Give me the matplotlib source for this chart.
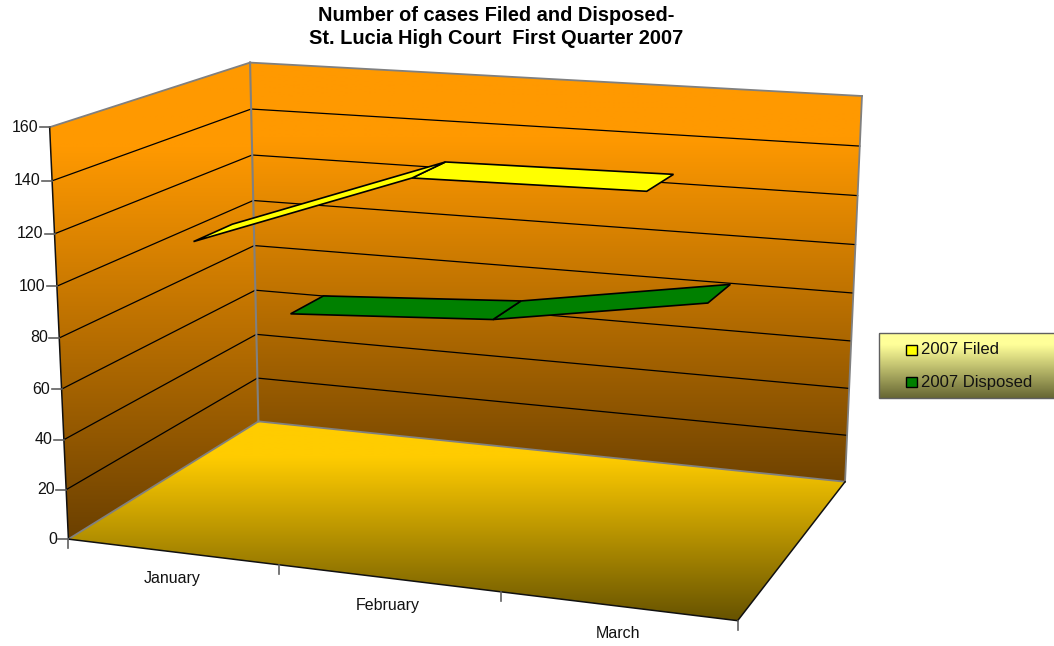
import numpy as np
import matplotlib
matplotlib.use('Agg')
import matplotlib.pyplot as plt
from matplotlib.patches import Polygon, Rectangle

plt.rcParams['font.family'] = ['Liberation Sans', 'DejaVu Sans']

# ---- data ----
months = ['January', 'February', 'March']
filed = [115, 145, 146]
disposed = [67, 72, 86]
series_names = ['2007 Filed', '2007 Disposed']
y_ticks = [0, 20, 40, 60, 80, 100, 120, 140, 160]
y_max = 160
title = 'Number of cases Filed and Disposed-\nSt. Lucia High Court  First Quarter 2007'

# ---- 3D box -> image projection, fitted to the box corners (x: months, y: value/max, z: depth) ----
box_anchor = [((0, 0, 0), (68.3, 539)), ((3, 0, 0), (737.7, 620.7)), ((0, 0, 1), (258.5, 421.5)),
              ((3, 0, 1), (845, 481.7)), ((0, 1, 0), (49.7, 127.3)), ((0, 1, 1), (250, 62.5)),
              ((3, 1, 1), (862, 96))]
A = []
for (x, y, z), (u, v) in box_anchor:
    u /= 1000
    v /= 1000
    A.append([x, y, z, 1, 0, 0, 0, 0, -u*x, -u*y, -u*z, -u])
    A.append([0, 0, 0, 0, x, y, z, 1, -v*x, -v*y, -v*z, -v])
P = np.linalg.svd(np.array(A))[2][-1].reshape(3, 4)
P = P / P[2, 3]
P[:2] *= 1000


def proj(x, val, z):
    h = P @ np.array([x, val / y_max, z, 1.0])
    return h[0] / h[2], h[1] / h[2]


W, H = 1054, 646
fig = plt.figure(figsize=(W / 100, H / 100), dpi=100)
ax = fig.add_axes([0, 0, 1, 1])
ax.set_xlim(0, W)
ax.set_ylim(H, 0)
ax.axis('off')


def grad_poly(pts, top, bottom, zorder=1, flat=0.18):
    pts = np.array(pts)
    y0, y1 = pts[:, 1].min(), pts[:, 1].max()
    x0, x1 = pts[:, 0].min(), pts[:, 0].max()
    t = np.clip((np.linspace(0, 1, 512) - flat) / (1 - flat), 0, 1)[:, None]
    c0, c1 = np.array(matplotlib.colors.to_rgb(top)), np.array(matplotlib.colors.to_rgb(bottom))
    img = (c0 * (1 - t) + c1 * t)[:, None, :]
    im = ax.imshow(img, extent=(x0, x1, y1, y0), aspect='auto', zorder=zorder, interpolation='bilinear')
    clip = Polygon(pts, closed=True, transform=ax.transData, facecolor='none', edgecolor='none')
    ax.add_patch(clip)
    im.set_clip_path(clip)


X_MAX = len(months)
WALL_TOP, WALL_BOT = '#FF9900', '#6B4000'
# walls and floor
grad_poly([proj(0, 0, 1), proj(X_MAX, 0, 1), proj(X_MAX, y_max, 1), proj(0, y_max, 1)], WALL_TOP, '#704300')
grad_poly([proj(0, 0, 0), proj(0, 0, 1), proj(0, y_max, 1), proj(0, y_max, 0)], WALL_TOP, WALL_BOT)
grad_poly([proj(0, 0, 0), proj(X_MAX, 0, 0), proj(X_MAX, 0, 1), proj(0, 0, 1)], '#FFCC00', '#665200')
ax.set_xlim(0, W)
ax.set_ylim(H, 0)

# gridlines
for t in y_ticks[1:-1]:
    a, b, c = proj(0, t, 0), proj(0, t, 1), proj(X_MAX, t, 1)
    ax.plot([a[0], b[0], c[0]], [a[1], b[1], c[1]], color='black', lw=0.9, zorder=2, solid_joinstyle='miter')


def seg(p, q, color, lw=1.3, z=3):
    ax.plot([p[0], q[0]], [p[1], q[1]], color=color, lw=lw, zorder=z, solid_capstyle='projecting')


# gray box edges
G = '#808080'
seg(proj(0, y_max, 0), proj(0, y_max, 1), G)
seg(proj(0, y_max, 1), proj(X_MAX, y_max, 1), G)
seg(proj(0, y_max, 1), proj(0, 0, 1), G, lw=1.5)
seg(proj(X_MAX, y_max, 1), proj(X_MAX, 0, 1), G)
seg(proj(0, 0, 0), proj(0, 0, 1), G)
seg(proj(0, 0, 1), proj(X_MAX, 0, 1), G)
# dark front edges
K = '#101010'
seg(proj(0, 0, 0), proj(0, y_max, 0), K, lw=1.1)
seg(proj(0, 0, 0), proj(X_MAX, 0, 0), K, lw=1.1)
seg(proj(X_MAX, 0, 0), proj(X_MAX, 0, 1), K, lw=1.1)

# value-axis ticks and labels
for t in y_ticks:
    u, v = proj(0, t, 0)
    ax.plot([u - 10, u], [v, v], color='#606060', lw=1.2, zorder=3)
    ax.text(u - 11.5, v, str(t), ha='right', va='center', fontsize=11.5, color='#111111')

# category ticks and labels
for i in range(X_MAX + 1):
    u, v = proj(i, 0, 0)
    ax.plot([u, u], [v, v + 9], color='#606060', lw=1.2, zorder=3)
for i, m in enumerate(months):
    u, v = proj(i + 0.5, 0, 0)
    ax.text(u, v + 27, m, ha='center', va='center', fontsize=11.5, color='#111111')

# ribbons
DEPTHS = [(0.15, 0.345), (0.65, 0.845)]
COLORS = ['#FFFF00', '#008000']
for vals, (zf, zb), col, zo in [(disposed, DEPTHS[1], COLORS[1], 4), (filed, DEPTHS[0], COLORS[0], 6)]:
    n = len(vals)
    for i in range(n - 2, -1, -1):
        x0, x1 = i + 0.5, i + 1.5
        quad = [proj(x0, vals[i], zf), proj(x0, vals[i], zb), proj(x1, vals[i + 1], zb), proj(x1, vals[i + 1], zf)]
        ax.add_patch(Polygon(quad, closed=True, facecolor=col, edgecolor='black', lw=1.2,
                             zorder=zo + (n - 2 - i) * 0.1, joinstyle='miter'))

# title
ax.text(496, 27, title, ha='center', va='center', fontsize=14.4, fontweight='bold',
        color='black', linespacing=1.25)

# legend box, running off the right edge
lx0, lx1, ly0, ly1 = 879, 1054, 333, 398
ax.add_patch(Rectangle((lx0 + 1, ly0 + 1), lx1 - lx0, ly1 - ly0, facecolor='#555555', edgecolor='none', zorder=1))
grad_poly([(lx0, ly0), (lx1, ly0), (lx1, ly1), (lx0, ly1)], '#FFFF99', '#666633', zorder=2)
ax.add_patch(Rectangle((lx0, ly0), lx1 - lx0 + 2, ly1 - ly0, facecolor='none', edgecolor='#606060', lw=1.0, zorder=3))
ax.set_xlim(0, W)
ax.set_ylim(H, 0)
for name, col, yc in zip(series_names, COLORS, (349.5, 382)):
    ax.add_patch(Rectangle((906, yc - 5), 11, 10, facecolor=col, edgecolor='black', lw=1.0, zorder=4))
    ax.text(921, yc, name, ha='left', va='center', fontsize=12, color='#111111', zorder=4)

fig.savefig('out.png', dpi=100, facecolor='white')
